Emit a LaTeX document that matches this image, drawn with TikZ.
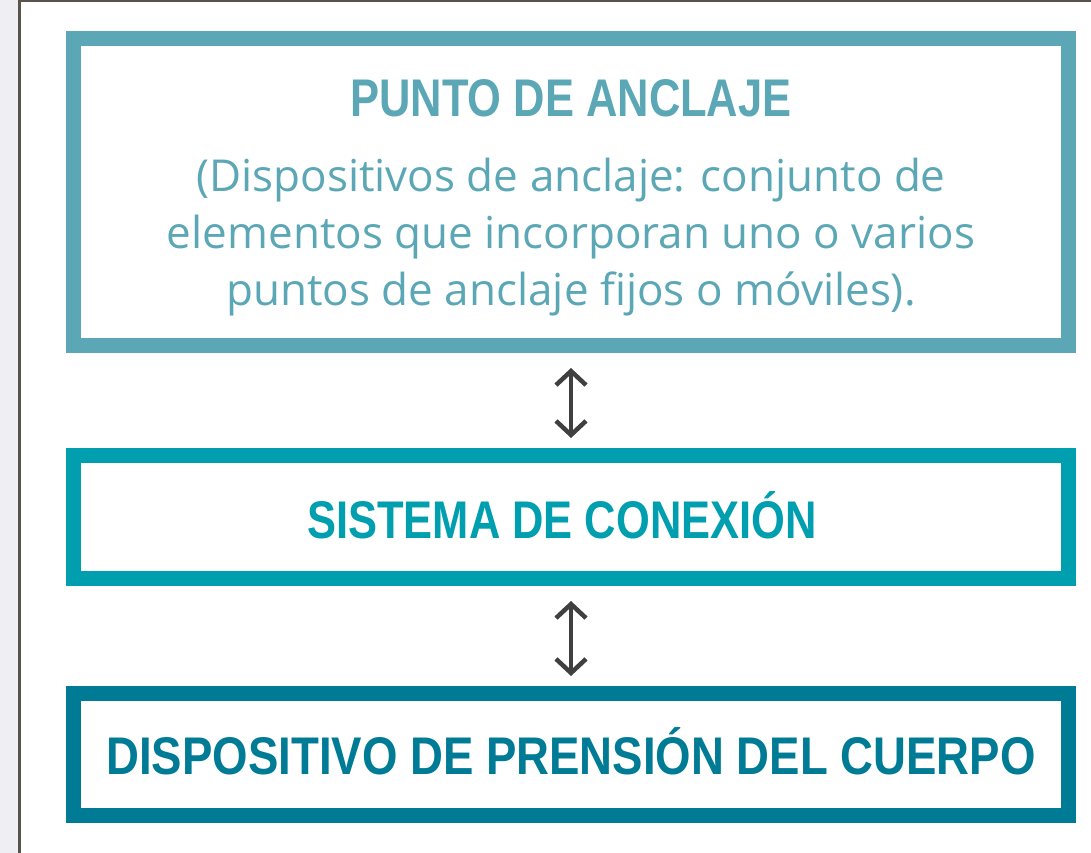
\documentclass[tikz,border=0pt]{standalone}
\usepackage{fontspec}
\setmainfont{Open Sans}
\newfontfamily\headfont[FakeStretch=0.82]{Liberation Sans}
\newfontfamily\headwidefont[FakeStretch=0.86]{Liberation Sans}
\usepackage{tikz}
\usetikzlibrary{arrows.meta, positioning}

\definecolor{anclajecol}{HTML}{5BA7B6}
\definecolor{conexcol}{HTML}{009FB0}
\definecolor{prensioncol}{HTML}{007B96}
\definecolor{marco}{HTML}{5A534C}
\definecolor{franja}{HTML}{EEEEF3}

\begin{document}
\begin{tikzpicture}[x=1pt, y=-1pt,
    level/.style={rectangle, draw, line width=15pt, minimum width=995pt, inner sep=0pt},
    heading/.style={anchor=base, inner sep=0pt, font=\headfont\bfseries\fontsize{53}{60}\selectfont},
    detail/.style={anchor=base, inner sep=0pt, align=center, font=\fontsize{44}{57}\selectfont},
    link/.style={{Straight Barb[length=14pt, width=30pt]}-{Straight Barb[length=14pt, width=30pt]}, line width=4.5pt, draw=black!75, shorten <=15pt, shorten >=10pt}
]
\useasboundingbox (0,0) rectangle (1091,853);

% Page frame
\fill[franja] (0,0) rectangle (18,853);
\draw[marco, line width=2.5pt] (19.3,853) -- (19.3,1.25) -- (1091,1.25);

% Levels
\node[level, draw=anclajecol, minimum height=307pt] (anclaje) at (571,192) {};
\node[level, draw=conexcol, minimum height=123pt] (conexion) at (571,517) {};
\node[level, draw=prensioncol, minimum height=122pt] (prension) at (571,754.5) {};

% Texts
\node[heading, text=anclajecol] (anclajetitle) at (571,117) {PUNTO DE ANCLAJE};
\node[detail, text=anclajecol] (anclajetext) at (571,305) {(Dispositivos de anclaje: conjunto de\\elementos que incorporan uno o varios\\puntos de anclaje fijos o móviles).};
\node[heading, text=conexcol] (conexiontitle) at (562,538) {SISTEMA DE CONEXIÓN};
\node[heading, text=prensioncol, font=\headwidefont\bfseries\fontsize{53}{60}\selectfont] (prensiontitle) at (571,774) {DISPOSITIVO DE PRENSIÓN DEL CUERPO};

% Links
\draw[link] (anclaje) -- (conexion);
\draw[link] (conexion) -- (prension);

\end{tikzpicture}
\end{document}
